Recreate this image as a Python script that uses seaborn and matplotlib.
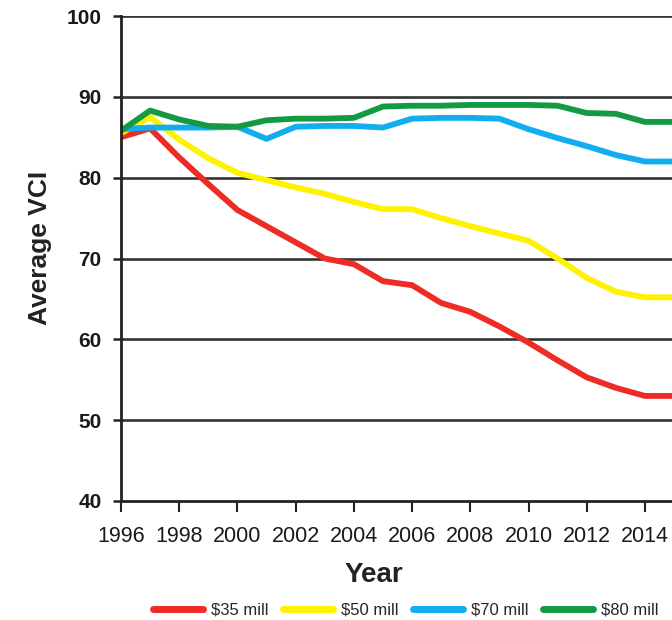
import matplotlib
matplotlib.use("Agg")
import matplotlib.pyplot as plt
import seaborn as sns
import pandas as pd
from matplotlib import font_manager

years = list(range(1996, 2016))
red_35 = [85.0, 86.1, 82.5, 79.2, 76.0, 74.0, 72.0, 70.0, 69.3, 67.2, 66.7, 64.5, 63.4, 61.6, 59.6, 57.4, 55.3, 54.0, 53.0, 53.0]
yellow_50 = [85.5, 87.5, 84.7, 82.4, 80.6, 79.7, 78.8, 78.0, 77.0, 76.1, 76.1, 75.0, 74.0, 73.1, 72.2, 70.0, 67.6, 65.9, 65.2, 65.2]
blue_70 = [86.0, 86.2, 86.2, 86.2, 86.3, 84.8, 86.3, 86.4, 86.4, 86.2, 87.3, 87.4, 87.4, 87.3, 86.0, 84.9, 83.9, 82.8, 82.0, 82.0]
green_80 = [85.8, 88.3, 87.2, 86.4, 86.3, 87.1, 87.3, 87.3, 87.4, 88.8, 88.9, 88.9, 89.0, 89.0, 89.0, 88.9, 88.0, 87.9, 86.9, 86.9]
series_names = ["$35 mill", "$50 mill", "$70 mill", "$80 mill"]
colors = ["#ee2b24", "#fff200", "#11aeef", "#139a43"]
x_ticks = list(range(1996, 2015, 2))
y_ticks = [40, 50, 60, 70, 80, 90, 100]

rows = []
for name, vals in zip(series_names, [red_35, yellow_50, blue_70, green_80]):
    for y, v in zip(years, vals):
        rows.append({"Year": y, "VCI": v, "Series": name})
df = pd.DataFrame(rows)

sns.set_theme(style="white")
avail = {f.name for f in font_manager.fontManager.ttflist}
fam = "Liberation Sans Narrow" if "Liberation Sans Narrow" in avail else "Liberation Sans"
plt.rcParams["font.family"] = [fam, "DejaVu Sans"]

fig = plt.figure(figsize=(6.72, 6.2), dpi=100)
ax = fig.add_axes([121 / 672, 1 - 501 / 620, 1 - 121 / 672, (501 - 16) / 620])

for v in y_ticks[1:]:
    ax.axhline(v, color="#333333", lw=1.9, zorder=1)

sns.lineplot(data=df, x="Year", y="VCI", hue="Series", palette=colors,
             hue_order=series_names, lw=4.2, ax=ax, legend=True, zorder=3)

ax.set_xlim(1996, 2014.93)
ax.set_ylim(40, 100)
ax.set_xticks(x_ticks)
ax.set_yticks(y_ticks)
ax.set_xticklabels([str(t) for t in x_ticks], fontsize=15.5, color="#1a1a1a")
ax.set_yticklabels([str(t) for t in y_ticks], fontsize=15, fontweight="bold", color="#1a1a1a")
ax.tick_params(axis="y", direction="out", length=6, width=1.8, color="#222222", pad=8, left=True)
ax.tick_params(axis="x", direction="out", length=8, width=1.5, color="#222222", pad=10, bottom=True)

for s in ["top", "right"]:
    ax.spines[s].set_visible(False)
for s in ["left", "bottom"]:
    ax.spines[s].set_color("#222222")
    ax.spines[s].set_linewidth(2.0)
    ax.spines[s].set_zorder(4)

ax.set_xlabel("Year", fontsize=20, fontweight="bold", color="#222222")
ax.xaxis.set_label_coords((374 - 121) / 551, -0.125)
ax.set_ylabel("Average VCI", fontsize=19, fontweight="bold", color="#222222")
ax.yaxis.set_label_coords(-0.125, 0.522)

handles, labels = ax.get_legend_handles_labels()
ax.get_legend().remove()
for h in handles:
    h.set_linewidth(5)
fig.legend(handles, labels, loc="center", bbox_to_anchor=(406 / 672, 1 - 610 / 620),
           ncol=4, frameon=False, fontsize=12, handlelength=3.0, handletextpad=0.5,
           columnspacing=0.85)

fig.savefig("out.png", dpi=100)
